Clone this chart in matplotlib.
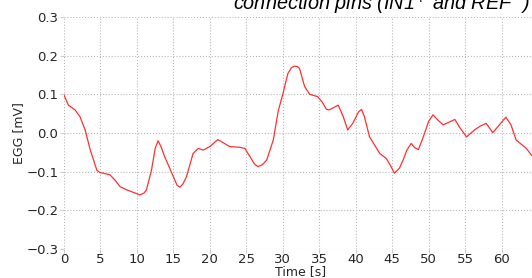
import numpy as np
import matplotlib
matplotlib.use('Agg')
import matplotlib.pyplot as plt

# ── data ──────────────────────────────────────────────────────────────────────
time_s = [0.0, 0.6, 1.5, 2.2, 2.9, 3.6, 4.5, 4.9, 6.3, 7.0, 7.7, 8.6, 10.0, 10.4,
          11.0, 11.3, 12.0, 12.5, 12.9, 13.3, 13.8, 15.0, 15.5, 15.9, 16.3, 16.8,
          17.7, 18.4, 19.1, 20.0, 21.1, 22.0, 22.7, 24.1, 24.8, 25.5, 26.1, 26.6,
          27.2, 27.8, 28.7, 29.4, 30.0, 30.7, 31.2, 31.6, 32.0, 32.3, 33.0, 33.7,
          34.8, 35.4, 36.0, 36.4, 37.0, 37.6, 38.3, 38.9, 39.6, 40.4, 40.8, 41.2,
          41.9, 43.3, 44.2, 44.8, 45.3, 46.0, 46.5, 47.0, 47.6, 48.1, 48.6, 49.2,
          50.0, 50.6, 51.3, 52.0, 52.8, 53.6, 54.2, 55.2, 56.3, 57.1, 57.9, 58.8,
          59.7, 60.6, 61.3, 62.0, 63.4, 64.1, 64.6]
egg_mv = [0.098, 0.072, 0.060, 0.042, 0.008, -0.044, -0.096, -0.102, -0.108, -0.122,
          -0.139, -0.147, -0.157, -0.160, -0.155, -0.147, -0.096, -0.040, -0.020,
          -0.035, -0.061, -0.113, -0.135, -0.140, -0.132, -0.113, -0.053, -0.040,
          -0.044, -0.035, -0.017, -0.027, -0.035, -0.037, -0.040, -0.061, -0.080,
          -0.087, -0.082, -0.070, -0.018, 0.059, 0.100, 0.154, 0.169, 0.173, 0.172,
          0.167, 0.120, 0.100, 0.094, 0.080, 0.061, 0.060, 0.066, 0.072, 0.042,
          0.008, 0.025, 0.055, 0.061, 0.042, -0.010, -0.053, -0.066, -0.085, -0.104,
          -0.091, -0.070, -0.045, -0.027, -0.038, -0.043, -0.014, 0.030, 0.047,
          0.033, 0.021, 0.028, 0.035, 0.016, -0.010, 0.008, 0.018, 0.025, 0.001,
          0.021, 0.041, 0.021, -0.018, -0.040, -0.057, -0.065]

x_ticks = [0, 5, 10, 15, 20, 25, 30, 35, 40, 45, 50, 55, 60]
y_ticks = [-0.3, -0.2, -0.1, 0.0, 0.1, 0.2, 0.3]

TXT  = '#262626'
GRID = '#b8b8b8'

plt.rcParams.update({
    'font.family': 'DejaVu Sans',
    'axes.unicode_minus': True,
})

fig = plt.figure(figsize=(5.32, 2.78), dpi=100)
fig.patch.set_facecolor('white')

# axes is wider than the visible picture (reference is a crop)
ax = fig.add_axes([64 / 532, 1 - 249 / 278, 474 / 532, 232 / 278])
ax.plot(time_s, egg_mv, color='#ff3030', linewidth=0.9)

ax.set_xlim(0, 65)
ax.set_ylim(-0.3, 0.3)
ax.set_xticks(x_ticks)
ax.set_yticks(y_ticks)
ax.set_yticklabels([f'{v:.1f}'.replace('-', '\u2212') for v in y_ticks])
ax.tick_params(labelsize=9.5, colors='#cccccc', labelcolor=TXT, length=3, pad=1)
ax.tick_params(axis='x', pad=0)
ax.grid(True, color=GRID, linestyle=':', linewidth=0.8)
for s in ax.spines.values():
    s.set_visible(False)

ax.set_xlabel('Time [s]', fontsize=9, color=TXT, labelpad=-1)
ax.set_ylabel('EGG [mV]', fontsize=9, color=TXT, labelpad=1)

fig.text(233 / 532, 1 - 10 / 278, 'connection pins (IN1$^{+}$ and REF$^{-}$)',
         family='Liberation Sans', style='italic', fontsize=14.3, color='black',
         ha='left', va='baseline')

fig.savefig('out.png', dpi=100, facecolor='white')
